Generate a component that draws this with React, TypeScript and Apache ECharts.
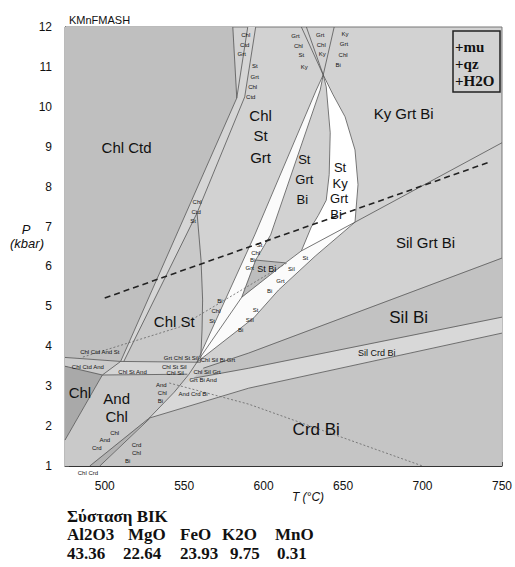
import React, { useEffect, useRef } from 'react';
import * as echarts from 'echarts';

type Pt = [number, number];

// ---- axes ----
const T_MIN = 475, T_MAX = 750, T_STEP = 25;
const P_MIN = 1, P_MAX = 12, P_STEP = 0.5;

// ---- field polygons (T °C, P kbar) ----
const fieldChlCtd: Pt[] = [[475, 12], [580.6, 12], [583.1, 10.22], [510, 3.62], [475, 3.72]];
const fieldBand: Pt[] = [[590, 12], [583.1, 10.22], [510, 3.62], [512, 3.62], [558.1, 7.34], [588.1, 10.25], [595, 12]];
const fieldChlSt: Pt[] = [[558.1, 7.34], [512, 3.62], [560.3, 3.6], [561.25, 4.41], [561.6, 5.16], [560.6, 6.16]];
const fieldChlCtdAnd: Pt[] = [[475, 3.72], [510, 3.62], [498.5, 3.28], [475, 3.5]];
const fieldChlStAnd: Pt[] = [[510, 3.62], [560.3, 3.6], [552, 3.3], [498.5, 3.28]];
const fieldChl: Pt[] = [[475, 3.5], [498.5, 3.28], [475, 1.65]];
const fieldAndChl: Pt[] = [[475, 1.65], [498.5, 3.28], [552, 3.3], [543.75, 2.85], [528, 2.2], [490.6, 1], [475, 1]];
const fieldChlAndCrd: Pt[] = [[490.6, 1], [528, 2.2], [496.9, 1]];
const fieldCrdBi: Pt[] = [[496.9, 1], [528, 2.2], [590.6, 2.95], [750, 4.33], [750, 1]];
const fieldSilCrdBi: Pt[] = [[528, 2.2], [590.6, 2.95], [750, 4.33], [750, 4.73], [590.6, 3.45], [556, 3.2], [543.75, 2.85]];
const fieldSilBi: Pt[] = [[556, 3.2], [590.6, 3.45], [750, 4.73], [750, 6.21], [590.6, 3.83], [562, 3.45]];
const fieldLens: Pt[] = [[637.5, 10.8], [639.4, 10.5], [641.9, 9.35], [641.25, 8.3], [639.4, 7.66], [634.4, 7.28], [630, 6.99], [623.75, 6.39], [657.5, 7.11], [659.4, 8.05], [657.5, 8.92], [651.25, 9.75], [643.75, 10.3]];
const fieldFan: Pt[] = [[623.75, 6.39], [657.5, 7.11], [632.5, 6.26], [609.4, 5.41], [593.75, 4.71], [559.4, 3.65], [558, 3.6], [594.4, 6.79], [633.1, 10.42], [637.5, 10.8], [635.6, 10.42], [604.4, 6.79], [595, 6.16], [613.75, 6.09]];
const fieldStBi: Pt[] = [[595, 6.16], [613.75, 6.09], [586.25, 5.23]];

const fields: Pt[][] = [fieldChlCtd, fieldBand, fieldChlSt, fieldChlCtdAnd, fieldChlStAnd, fieldChl, fieldAndChl, fieldChlAndCrd, fieldCrdBi, fieldSilCrdBi, fieldSilBi, fieldLens, fieldFan, fieldStBi];
const fieldFills = ['#bfbfbf', '#d6d6d6', '#c9c9c9', '#cbcbcb', '#d5d5d5', '#a9a9a9', '#c9c9c9', '#b2b2b2', '#c5c5c5', '#d8d8d8', '#c2c2c2', '#ffffff', '#fbfbfb', '#bdbdbd'];

// ---- boundary lines ----
const lineL1: Pt[] = [[580.6, 12], [583.1, 10.22]];
const lineBL: Pt[] = [[590, 12], [583.1, 10.22], [510, 3.62]];
const lineBR: Pt[] = [[595, 12], [588.1, 10.25], [558.1, 7.34], [512, 3.62]];
const lineVC: Pt[] = [[558.1, 7.34], [560.6, 6.16], [561.6, 5.16], [561.25, 4.41], [560.3, 3.6]];
const lineChlCtdAndTop: Pt[] = [[475, 3.72], [510, 3.62]];
const lineChlCtdAndBot: Pt[] = [[475, 3.5], [498.5, 3.28], [510, 3.62]];
const lineChlStAndTop: Pt[] = [[510, 3.62], [560.3, 3.6]];
const lineChlStAndBot: Pt[] = [[498.5, 3.28], [552, 3.3]];
const lineChlAnd: Pt[] = [[475, 1.65], [498.5, 3.28]];
const lineChlOutA: Pt[] = [[490.6, 1], [528, 2.2], [543.75, 2.85], [553, 3.3], [558, 3.6]];
const lineChlOutB: Pt[] = [[496.9, 1], [528.3, 2.19]];
const lineCrdSil: Pt[] = [[528, 2.2], [590.6, 2.95], [750, 4.33]];
const lineSilCrd: Pt[] = [[556, 3.2], [590.6, 3.45], [750, 4.73]];
const lineSilGrt: Pt[] = [[562, 3.45], [590.6, 3.83], [750, 6.21]];
const lineFanLow: Pt[] = [[657.5, 7.11], [632.5, 6.26], [609.4, 5.41], [593.75, 4.71], [558, 3.6]];
const lineKySil: Pt[] = [[750, 9.1], [657.5, 7.11], [623.75, 6.39], [613.75, 6.09], [586.25, 5.23], [558, 3.6]];
const lineLensL: Pt[] = [[637.5, 10.8], [639.4, 10.5], [641.9, 9.35], [641.25, 8.3], [639.4, 7.66], [634.4, 7.28], [630, 6.99], [623.75, 6.39]];
const lineLensR: Pt[] = [[637.5, 10.8], [643.75, 10.3], [651.25, 9.75], [657.5, 8.92], [659.4, 8.05], [657.5, 7.11]];
const lineNL: Pt[] = [[637.5, 10.8], [633.1, 10.42], [594.4, 6.79], [558, 3.6]];
const lineNR: Pt[] = [[637.5, 10.8], [635.6, 10.42], [604.4, 6.79], [595, 6.16], [586.25, 5.23]];
const lineStBiTop: Pt[] = [[595, 6.16], [613.75, 6.09]];
const lineTop1: Pt[] = [[623.75, 12], [637.5, 10.8]];
const lineTop2: Pt[] = [[626.9, 12], [637.5, 10.8]];
const lineTop3: Pt[] = [[644.4, 12], [637.5, 10.8]];
const solidLines: Pt[][] = [lineL1, lineBL, lineBR, lineVC, lineChlCtdAndTop, lineChlCtdAndBot, lineChlStAndTop, lineChlStAndBot, lineChlAnd, lineChlOutA, lineChlOutB, lineCrdSil, lineSilCrd, lineSilGrt, lineFanLow, lineKySil, lineLensL, lineLensR, lineNL, lineNR, lineStBiTop, lineTop1, lineTop2, lineTop3];

const dashGeotherm: Pt[] = [[500, 5.21], [742.5, 8.62]];
const dotBiIn: Pt[] = [[486.25, 3.73], [546.9, 4.48], [615.6, 6.11]];
const dotCrdIn: Pt[] = [[540.6, 3.08], [590.6, 2.55], [700, 1]];

// ---- field labels: [T, P, text] ----
const bigLabels: [number, number, string][] = [
  [513.75, 8.99, 'Chl Ctd'],
  [598.1, 9.79, 'Chl'], [598.1, 9.27, 'St'], [598.1, 8.74, 'Grt'],
  [688.1, 9.84, 'Ky Grt Bi'],
  [701.9, 6.61, 'Sil Grt Bi'],
  [543.75, 4.61, 'Chl St'],
  [507.5, 2.7, 'And'], [507.5, 2.23, 'Chl'],
  [484.4, 2.83, 'Chl'],
];
const largeLabels: [number, number, string][] = [
  [691.25, 4.71, 'Sil Bi'],
  [633.1, 1.92, 'Crd Bi'],
];
const midLabels: [number, number, string][] = [
  [625.6, 8.67, 'St'], [625.6, 8.17, 'Grt'], [624.4, 7.69, 'Bi'],
  [648.1, 8.49, 'St'], [648.1, 8.07, 'Ky'], [647.5, 7.71, 'Grt'], [645.6, 7.31, 'Bi'],
];
const smallLabels: [number, number, string][] = [
  [671.25, 3.83, 'Sil Crd Bi'],
  [601.9, 5.93, 'St Bi'],
];
const tinyLabels: [number, number, string][] = [
  [588.75, 11.8, 'Chl'], [588.1, 11.55, 'Ctd'], [586.25, 11.32, 'Grt'],
  [594.4, 11.02, 'St'], [594.4, 10.75, 'Grt'], [593.1, 10.5, 'Chl'], [591.9, 10.25, 'Ctd'],
  [620, 11.77, 'Grt'], [621.9, 11.52, 'Chl'], [623.75, 11.3, 'St'], [625.6, 11.0, 'Ky'],
  [635.6, 11.8, 'Grt'], [636.25, 11.55, 'Chl'], [636.9, 11.32, 'Ky'],
  [651.25, 11.82, 'Ky'], [650.6, 11.57, 'Grt'], [650, 11.3, 'Chl'], [646.9, 11.05, 'Bi'],
  [558.1, 7.61, 'Chl'], [557.5, 7.36, 'Ctd'], [555.6, 7.14, 'St'],
  [597.5, 6.54, 'St'], [595, 6.34, 'Chl'], [593.1, 6.16, 'Bi'], [591.25, 5.96, 'Grt'],
  [617.5, 5.93, 'Sil'], [626.25, 6.21, 'St'], [610.6, 5.63, 'Grt'], [603.75, 5.38, 'Bi'],
  [572.5, 5.13, 'Bi'], [570, 4.88, 'Chl'], [567.5, 4.63, 'St'],
  [595, 4.91, 'St'], [591.25, 4.66, 'Sill'], [585.6, 4.41, 'Bi'],
  [496.9, 3.85, 'Chl Ctd And St'], [489.4, 3.48, 'Chl Ctd And'], [517.5, 3.35, 'Chl St And'],
  [548.1, 3.7, 'Grt Chl St Sil'], [571.25, 3.65, 'Chl Sil Bi Grt'], [543.75, 3.48, 'Chl St Sil'],
  [544.4, 3.33, 'Chl Sil'], [564.4, 3.35, 'Chl Sil Grt'], [561.9, 3.15, 'Grt Bi And'],
  [555.6, 2.8, 'And Crd Bi'],
  [535.6, 3.03, 'And'], [536.25, 2.83, 'Chl'], [535, 2.63, 'Bi'],
  [506.25, 1.82, 'Chl'], [500, 1.65, 'And'], [495, 1.45, 'Crd'],
  [520, 1.52, 'Crd'], [520, 1.32, 'Chl'], [514.4, 1.12, 'Bi'],
  [489.4, 0.82, 'Chl Crd'],
];

// ---- legend / composition text ----
const assemblage = ['+mu', '+qz', '+H2O'];
const compTitle = 'Σύσταση ΒΙΚ';
const oxides = ['Al2O3', 'MgO', 'FeO', 'K2O', 'MnO'];
const oxideValues = ['43.36', '22.64', '23.93', '9.75', '0.31'];

const SANS = '"Liberation Sans", Arial, Helvetica, sans-serif';
const SERIF = '"Liberation Serif", "Times New Roman", serif';

function polySeries(pts: Pt[], fill: string) {
  return {
    type: 'custom',
    coordinateSystem: 'cartesian2d',
    silent: true,
    clip: true,
    z: 1,
    data: pts,
    renderItem: (params: any, api: any) => {
      if (params.dataIndex !== 0) return null;
      return {
        type: 'polygon',
        shape: { points: pts.map((p) => api.coord(p)) },
        style: { fill, stroke: fill, lineWidth: 0.3 },
      };
    },
  };
}

function lineSeries(pts: Pt[], style: any, z = 3) {
  return {
    type: 'line',
    data: pts,
    showSymbol: false,
    symbol: 'none',
    silent: true,
    z,
    lineStyle: style,
  };
}

function labelSeries(list: [number, number, string][], fontSize: number) {
  return {
    type: 'custom',
    coordinateSystem: 'cartesian2d',
    silent: true,
    clip: false,
    z: 5,
    data: list.map((l) => [l[0], l[1]]),
    renderItem: (params: any, api: any) => {
      const pt = api.coord([api.value(0), api.value(1)]);
      return {
        type: 'text',
        x: pt[0],
        y: pt[1],
        style: {
          text: list[params.dataIndex][2],
          fontSize,
          fontFamily: SANS,
          fill: '#111',
          align: 'center',
          verticalAlign: 'middle',
        },
      };
    },
  };
}

export default function App() {
  const ref = useRef<HTMLDivElement>(null);
  useEffect(() => {
    document.body.style.margin = '0';
    const chart = echarts.init(ref.current!, null, { renderer: 'svg' });
    const series: any[] = [];
    fields.forEach((f, i) => series.push(polySeries(f, fieldFills[i])));
    solidLines.forEach((l) => series.push(lineSeries(l, { color: '#555', width: 0.8 })));
    series.push(lineSeries(dashGeotherm, { color: '#222', width: 1.6, type: [6, 4] }, 4));
    series.push(lineSeries(dotBiIn, { color: '#666', width: 0.8, type: [2, 2] }));
    series.push(lineSeries(dotCrdIn, { color: '#666', width: 0.8, type: [2, 2] }));
    series.push(labelSeries(bigLabels, 15));
    series.push(labelSeries(largeLabels, 17));
    series.push(labelSeries(midLabels, 13));
    series.push(labelSeries(smallLabels, 9));
    series.push(labelSeries(tinyLabels, 6));

    const oxideX = [67, 128, 180, 222, 275];
    const valueX = [67, 123, 180, 230, 277];
    const graphic: any[] = [
      { type: 'text', x: 26, y: 229, style: { text: 'P', fontSize: 13, fontStyle: 'italic', fontFamily: SANS, fill: '#111', align: 'center', verticalAlign: 'middle' } },
      { type: 'text', x: 27, y: 243, style: { text: '(kbar)', fontSize: 13, fontStyle: 'italic', fontFamily: SANS, fill: '#111', align: 'center', verticalAlign: 'middle' } },
      { type: 'text', x: 308, y: 497, style: { text: 'T (°C)', fontSize: 12, fontStyle: 'italic', fontFamily: SANS, fill: '#111', align: 'center', verticalAlign: 'middle' } },
      { type: 'rect', shape: { x: 453, y: 31, width: 47, height: 61 }, style: { fill: 'none', stroke: '#222', lineWidth: 1.5 }, z: 10 },
      { type: 'text', x: 67, y: 516, style: { text: compTitle, fontSize: 17, fontWeight: 'bold', fontFamily: SERIF, fill: '#111', align: 'left', verticalAlign: 'middle' } },
    ];
    assemblage.forEach((t, i) => graphic.push({ type: 'text', x: 455, y: 47 + i * 17, z: 10, style: { text: t, fontSize: 15, fontWeight: 'bold', fontFamily: SERIF, fill: '#111', align: 'left', verticalAlign: 'middle' } }));
    oxides.forEach((t, i) => graphic.push({ type: 'text', x: oxideX[i], y: 534, style: { text: t, fontSize: 17, fontWeight: 'bold', fontFamily: SERIF, fill: '#111', align: 'left', verticalAlign: 'middle' } }));
    oxideValues.forEach((t, i) => graphic.push({ type: 'text', x: valueX[i], y: 553, style: { text: t, fontSize: 17, fontWeight: 'bold', fontFamily: SERIF, fill: '#111', align: 'left', verticalAlign: 'middle' } }));

    chart.setOption({
      animation: false,
      backgroundColor: '#ffffff',
      title: { text: 'KMnFMASH', left: 64, top: 9, textStyle: { fontSize: 11, fontWeight: 'normal', fontFamily: SANS, color: '#111' } },
      grid: { left: 65, top: 27, width: 440, height: 439, show: true, backgroundColor: '#d2d2d2', borderColor: '#777', borderWidth: 1 },
      xAxis: {
        type: 'value', min: T_MIN, max: T_MAX, interval: T_STEP,
        axisLine: { show: true, lineStyle: { color: '#333', width: 1 } },
        axisTick: { show: true, inside: true, length: 4, lineStyle: { color: '#555' } },
        axisLabel: { margin: 14, fontSize: 12, fontFamily: SANS, color: '#111', formatter: (v: number) => (v % 50 === 0 ? String(v) : '') },
        splitLine: { show: false },
      },
      yAxis: {
        type: 'value', min: P_MIN, max: P_MAX, interval: P_STEP,
        axisLine: { show: true, lineStyle: { color: '#333', width: 1 } },
        axisTick: { show: true, inside: true, length: 4, lineStyle: { color: '#555' } },
        axisLabel: { margin: 13, fontSize: 12, fontFamily: SANS, color: '#111', formatter: (v: number) => (Number.isInteger(v) ? String(v) : '') },
        splitLine: { show: false },
      },
      graphic,
      series,
    });
    return () => chart.dispose();
  }, []);
  return <div ref={ref} style={{ width: 515, height: 567 }} />;
}
